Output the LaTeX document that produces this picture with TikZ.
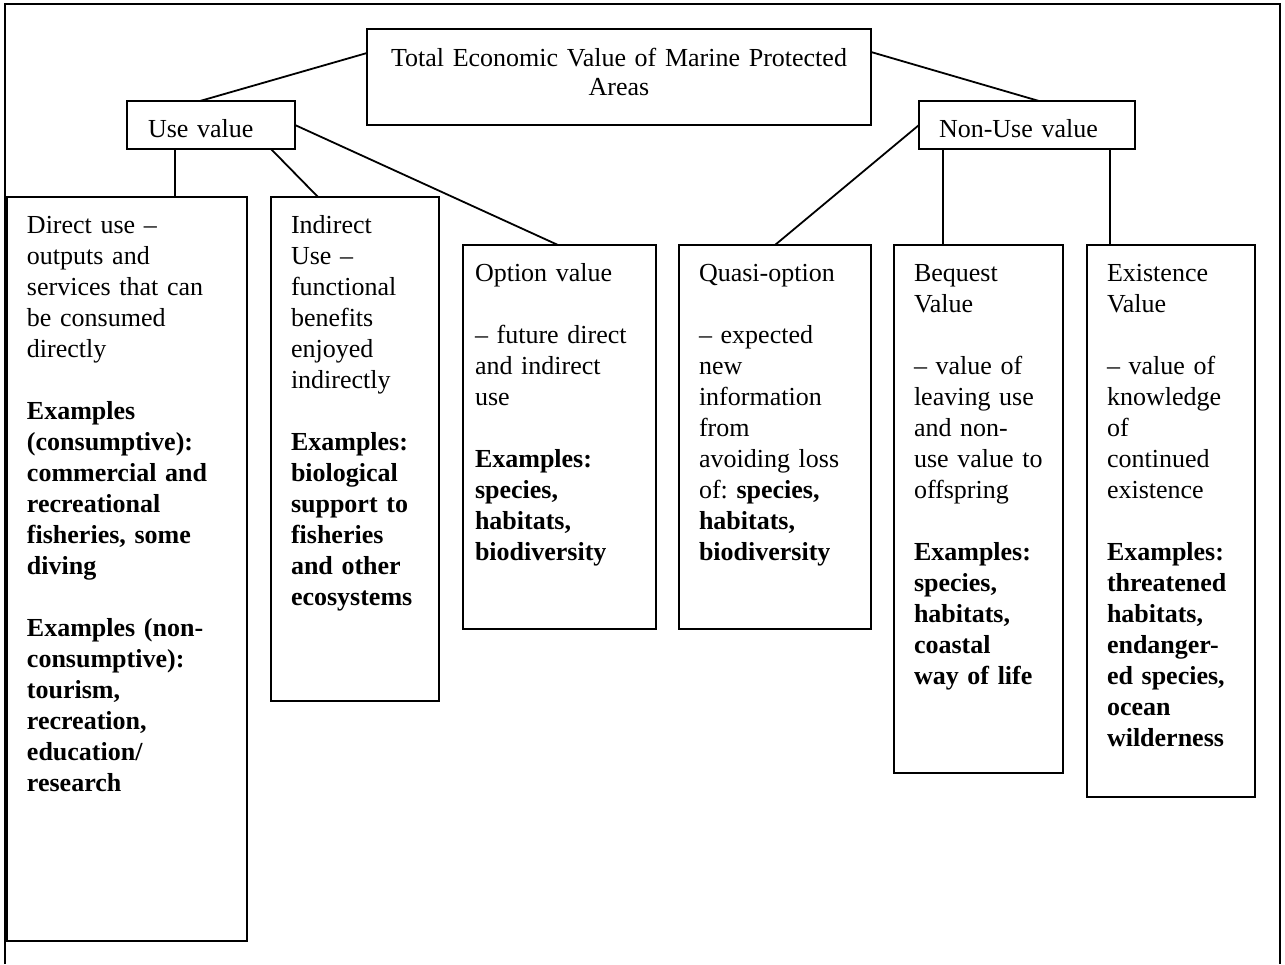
\documentclass[tikz,border=0pt]{standalone}
\usepackage{fontspec}
\setmainfont{Liberation Serif}

\tikzset{
  every node/.style={font=\fontsize{26}{31}\selectfont},
  valbox/.style={draw, line width=1.8pt, outer sep=0pt, anchor=north west,
    inner xsep=20pt, inner ysep=0pt, text height=36pt, align=left},
  link/.style={line width=1.8pt},
}

\begin{document}
\begin{tikzpicture}[x=1pt,y=-1pt]
  \useasboundingbox (0,0) rectangle (1285,964);
  % outer frame, open at the bottom
  \draw[link] (5,964) -- (5,4) -- (1280,4) -- (1280,964);

  % top and second level
  \node[valbox, anchor=north, align=center, inner xsep=0pt, text width=504pt,
    text height=37pt, text depth=59pt] (total) at (619,29)
    {Total Economic Value of Marine Protected\\[-2pt] Areas};
  \node[valbox, inner xsep=21pt, text width=126pt, text depth=12pt] (use) at (127,101) {Use value};
  \node[valbox, text width=176pt, text depth=12pt] (nonuse) at (919,101) {Non-Use value};

  % use values
  \node[valbox, text width=200pt, text depth=708pt] (direct) at (7,197)
    {Direct use –\\ outputs and\\ services that can\\ be consumed\\ directly\\[31pt]
     {\bfseries Examples\\ (consumptive):\\ commercial and\\ recreational\\ fisheries, some\\ diving}\\[31pt]
     {\bfseries Examples (non-\\ consumptive):\\ tourism,\\ recreation,\\ education/\\ research}};
  \node[valbox, text width=128pt, text depth=468pt] (indirect) at (271,197)
    {Indirect\\ Use –\\ functional\\ benefits\\ enjoyed\\ indirectly\\[31pt]
     {\bfseries Examples:\\ biological\\ support~to\\ fisheries\\ and~other\\ ecosystems}};
  \node[valbox, inner xsep=12pt, text width=169pt, text depth=348pt] (option) at (463,245)
    {Option value\\[31pt] – future direct\\ and indirect\\ use\\[31pt]
     {\bfseries Examples:\\ species,\\ habitats,\\ biodiversity}};

  % non-use values
  \node[valbox, text width=152pt, text depth=348pt] (quasi) at (679,245)
    {Quasi-option\\[31pt] – expected\\ new\\ information\\ from\\ avoiding~loss\\
     of:~{\bfseries species,\\ habitats,\\ biodiversity}};
  \node[valbox, text width=129pt, text depth=492pt] (bequest) at (894,245)
    {Bequest\\ Value\\[31pt] – value~of\\ leaving~use\\ and~non-\\ use~value~to\\ offspring\\[31pt]
     {\bfseries Examples:\\ species,\\ habitats,\\ coastal\\ way~of~life}};
  \node[valbox, text width=128pt, text depth=516pt] (existence) at (1087,245)
    {Existence\\ Value\\[31pt] – value~of\\ knowledge\\ of\\ continued\\ existence\\[31pt]
     {\bfseries Examples:\\ threatened\\ habitats,\\ endanger-\\ ed~species,\\ ocean\\ wilderness}};

  % connectors
  \draw[link] ([yshift=-24pt]total.north west) -- ([xshift=73pt]use.north west);
  \draw[link] ([yshift=-23pt]total.north east) -- ([xshift=120pt]nonuse.north west);
  \draw[link] ([xshift=48pt]use.south west) -- ([xshift=168pt]direct.north west);
  \draw[link] ([xshift=144pt]use.south west) -- ([xshift=47pt]indirect.north west);
  \draw[link] (use.east) -- ([xshift=95pt]option.north west);
  \draw[link] (nonuse.west) -- ([xshift=96pt]quasi.north west);
  \draw[link] ([xshift=24pt]nonuse.south west) -- ([xshift=49pt]bequest.north west);
  \draw[link] ([xshift=191pt]nonuse.south west) -- ([xshift=23pt]existence.north west);
\end{tikzpicture}
\end{document}
